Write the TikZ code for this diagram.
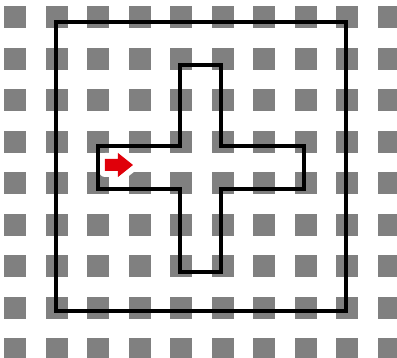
\documentclass[tikz,border=0pt]{standalone}
\usepackage{tikz}
\definecolor{TileGray}{HTML}{808080}
\definecolor{MarkRed}{HTML}{E0000A}

\begin{document}
\begin{tikzpicture}[x=.02cm,y=-.02cm]
  \useasboundingbox (0,0) rectangle (397,358);
  \clip (0,0) rectangle (397,358);
  \foreach \i in {0,...,9} {
    \foreach \j in {0,...,8} {
      \fill[TileGray] (4.5+41.5*\i,6.5+41.5*\j) rectangle ++(22,22);
    }
  }
  % white halo behind the arrow
  \draw[white,fill=white,line width=12*.02cm,line join=round]
    (105,159)--(118,159)--(118,153)--(133,165)--(118,177)--(118,171)--(105,171)--cycle;
  \draw[line width=4*.02cm] (56,22) rectangle (346,311);
  \draw[line width=4*.02cm] (98,146)--(180,146)--(180,65)--(221,65)--(221,146)--(304,146)
    --(304,189)--(221,189)--(221,272)--(180,272)--(180,189)--(98,189)--cycle;
  \fill[MarkRed] (105,159)--(118,159)--(118,153)--(133,165)--(118,177)--(118,171)--(105,171)--cycle;
\end{tikzpicture}
\end{document}
